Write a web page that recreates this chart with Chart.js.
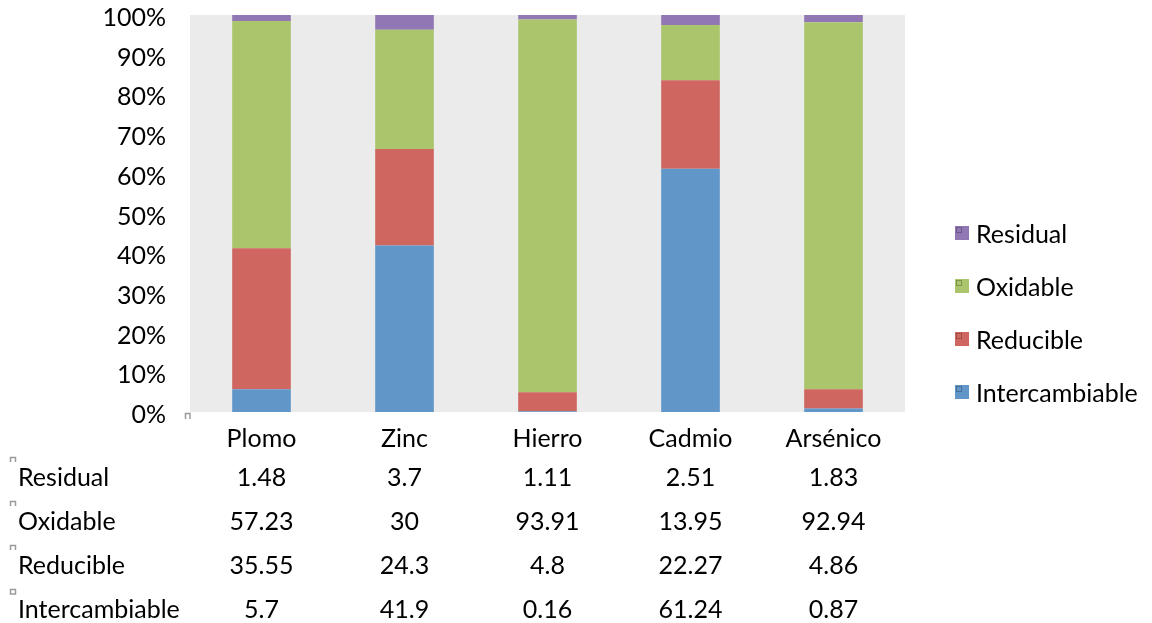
<!DOCTYPE html>
<html>
<head>
<meta charset="utf-8">
<script src="https://cdn.jsdelivr.net/npm/chart.js"></script>
<style>
  html, body { margin: 0; padding: 0; background: #fff; }
  #wrap { width: 1152px; height: 623px; position: relative; }
</style>
</head>
<body>
<div id="wrap"><canvas id="chart" width="1152" height="623"></canvas></div>
<script>
const metals = ['Plomo', 'Zinc', 'Hierro', 'Cadmio', 'Arsénico'];
const intercambiable = [5.7, 41.9, 0.16, 61.24, 0.87];
const reducible      = [35.55, 24.3, 4.8, 22.27, 4.86];
const oxidable       = [57.23, 30, 93.91, 13.95, 92.94];
const residual       = [1.48, 3.7, 1.11, 2.51, 1.83];
const yTicks = [0, 10, 20, 30, 40, 50, 60, 70, 80, 90, 100];

const FONT = 'Lato, "Open Sans", sans-serif';
const SIZE = 25;

// stacked to 100%: each fraction as share of its column total
const totals = metals.map((_, i) => intercambiable[i] + reducible[i] + oxidable[i] + residual[i]);
const pct = arr => arr.map((v, i) => v / totals[i] * 100);

const series = [
  { label: 'Intercambiable', raw: intercambiable, color: '#6096c8' },
  { label: 'Reducible',      raw: reducible,      color: '#cf6760' },
  { label: 'Oxidable',       raw: oxidable,       color: '#abc56d' },
  { label: 'Residual',       raw: residual,       color: '#9277b5' },
];

// light grey plot background
const plotBg = {
  id: 'plotBg',
  beforeDraw(chart) {
    const { ctx, chartArea: a } = chart;
    ctx.save();
    ctx.fillStyle = '#ebebeb';
    ctx.fillRect(a.left, a.top, a.right - a.left, a.bottom - a.top);
    ctx.restore();
  }
};

// legend on the right and the data table under the axis
const extras = {
  id: 'extras',
  afterDraw(chart) {
    const { ctx } = chart;
    const x = chart.scales.x;
    ctx.save();
    ctx.font = SIZE + 'px ' + FONT;
    ctx.textBaseline = 'middle';

    // legend, top entry = last series
    const legendY = [235, 288, 341, 394];
    [...series].reverse().forEach((s, k) => {
      const y = legendY[k];
      ctx.fillStyle = s.color;
      ctx.fillRect(955, y - 9, 14, 14);
      ctx.strokeStyle = 'rgba(0,0,0,0.25)';
      ctx.lineWidth = 1;
      ctx.strokeRect(956.5, y - 7.5, 5, 5);
      ctx.fillStyle = '#000';
      ctx.textAlign = 'left';
      ctx.fillText(s.label, 976, y);
    });

    // data table
    const rowY = [478, 522, 566, 610];
    [...series].reverse().forEach((s, k) => {
      const y = rowY[k];
      ctx.strokeStyle = '#9a9a9a';
      ctx.lineWidth = 1.5;
      ctx.beginPath();
      ctx.moveTo(10.5, y - 16);
      ctx.lineTo(10.5, y - 20.5);
      ctx.lineTo(15.5, y - 20.5);
      ctx.lineTo(15.5, y - 16);
      if (k === 3) ctx.closePath();
      ctx.stroke();
      ctx.fillStyle = '#000';
      ctx.textAlign = 'left';
      ctx.fillText(s.label, 18, y);
      ctx.textAlign = 'center';
      s.raw.forEach((v, i) => ctx.fillText(String(v), x.getPixelForValue(i), y));
    });

    // small corner mark under the axis origin
    ctx.strokeStyle = '#9a9a9a';
    ctx.lineWidth = 1.5;
    ctx.beginPath();
    ctx.moveTo(185.5, 419);
    ctx.lineTo(185.5, 413.5);
    ctx.lineTo(190, 413.5);
    ctx.lineTo(190, 419);
    ctx.stroke();
    ctx.restore();
  }
};

new Chart(document.getElementById('chart'), {
  type: 'bar',
  data: {
    labels: metals,
    datasets: series.map(s => ({
      label: s.label,
      data: pct(s.raw),
      backgroundColor: s.color,
      borderWidth: 0,
      barPercentage: 0.82,
      categoryPercentage: 0.5,
    }))
  },
  options: {
    responsive: false,
    animation: false,
    layout: { padding: { left: 0, right: 247, top: 15, bottom: 171 } },
    plugins: { legend: { display: false }, tooltip: { enabled: false } },
    scales: {
      x: {
        stacked: true,
        grid: { display: false },
        border: { display: false },
        ticks: { color: '#000', font: { size: SIZE, family: FONT }, padding: 4 },
        afterFit: s => { s.height = 40; s.paddingLeft = 0; s.paddingRight = 0; }
      },
      y: {
        stacked: true,
        min: 0,
        max: 100,
        afterFit: s => { s.width = 190; s.paddingTop = 0; s.paddingBottom = 0; },
        afterBuildTicks: s => { s.ticks = yTicks.map(v => ({ value: v })); },
        grid: { display: false },
        border: { display: false },
        ticks: {
          color: '#000',
          font: { size: SIZE, family: FONT },
          padding: 16,
          labelOffset: 3,
          callback: v => v + '%'
        }
      }
    }
  },
  plugins: [plotBg, extras]
});
</script>
</body>
</html>
